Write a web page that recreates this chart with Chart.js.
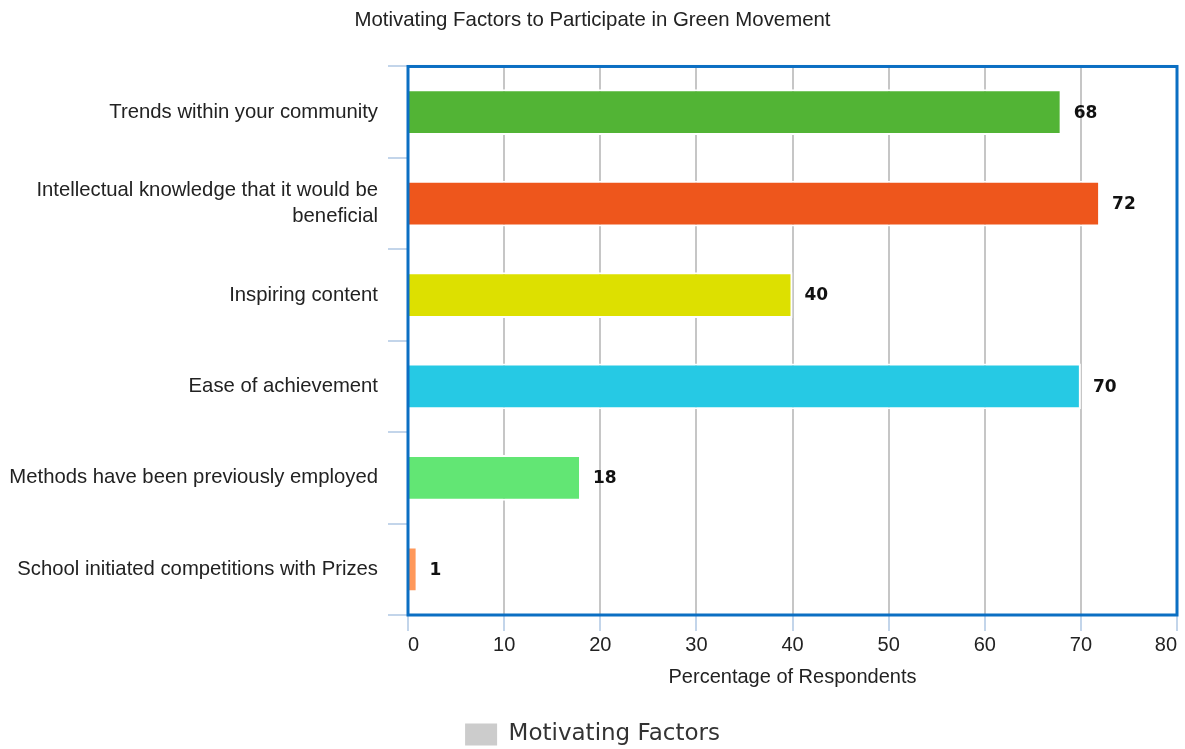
<!DOCTYPE html>
<html>
<head>
<meta charset="utf-8">
<script src="https://cdn.jsdelivr.net/npm/chart.js@4/dist/chart.umd.min.js"></script>
<style>
  body { margin: 0; background: #fff; }
  #wrap { width: 1185px; height: 749px; }
</style>
</head>
<body>
<div id="wrap"><canvas id="myChart"></canvas></div>
<script>
'use strict';

// chart data
let factors = [
  'Trends within your community',
  ['Intellectual knowledge that it would be', 'beneficial'],
  'Inspiring content',
  'Ease of achievement',
  'Methods have been previously employed',
  'School initiated competitions with Prizes'
];
let percentages = [68, 72, 40, 70, 18, 1];
let barColors = ['#52b435', '#ee561c', '#dde000', '#26c9e4', '#62e674', '#ff985a'];
let xTicks = [0, 10, 20, 30, 40, 50, 60, 70, 80];

let labelFont = '"Liberation Sans", Arial, sans-serif';

// draws the value next to each bar
let valueLabels = {
  id: 'valueLabels',
  afterDatasetsDraw(chart) {
    let ctx = chart.ctx;
    let meta = chart.getDatasetMeta(0);
    ctx.save();
    ctx.font = 'bold 17px "DejaVu Sans", sans-serif';
    ctx.fillStyle = '#111';
    ctx.textAlign = 'left';
    ctx.textBaseline = 'middle';
    meta.data.forEach(function (bar, i) {
      ctx.fillText(String(percentages[i]), bar.x + 12, bar.y + 1);
    });
    ctx.restore();
  }
};

// blue frame round the plot area
let plotFrame = {
  id: 'plotFrame',
  afterDraw(chart) {
    let a = chart.chartArea;
    let ctx = chart.ctx;
    ctx.save();
    ctx.strokeStyle = '#0b6fc3';
    ctx.lineWidth = 3;
    ctx.strokeRect(a.left, a.top, a.right - a.left, a.bottom - a.top);
    ctx.restore();
  }
};

const ctx = document.getElementById('myChart').getContext('2d');

const myChart = new Chart(ctx, {
  type: 'bar',
  data: {
    labels: factors,
    datasets: [{
      label: 'Motivating Factors',
      data: percentages,
      backgroundColor: barColors,
      borderColor: '#ffffff',
      borderWidth: 2,
      borderSkipped: 'start',
      barPercentage: 0.5,
      categoryPercentage: 1
    }]
  },
  options: {
    indexAxis: 'y',
    responsive: true,
    maintainAspectRatio: false,
    animation: false,
    layout: { padding: { left: 0, right: 0, top: 0, bottom: -7 } },
    plugins: {
      title: {
        display: true,
        text: 'Motivating Factors to Participate in Green Movement',
        color: '#222',
        font: { family: labelFont, size: 20.4, weight: 'normal' },
        padding: { top: 8, bottom: 34 }
      },
      legend: {
        display: true,
        position: 'bottom',
        labels: {
          boxWidth: 32,
          boxHeight: 22,
          padding: 4,
          color: '#333',
          font: { family: '"DejaVu Sans", sans-serif', size: 23 },
          generateLabels: function () {
            return [{
              text: 'Motivating Factors',
              fillStyle: '#cccccc',
              strokeStyle: '#cccccc',
              lineWidth: 0,
              fontColor: '#333',
              datasetIndex: 0
            }];
          }
        }
      },
      tooltip: { enabled: false }
    },
    scales: {
      x: {
        min: 0,
        max: 80,
        afterBuildTicks: function (scale) {
          scale.ticks = xTicks.map(function (v) { return { value: v }; });
        },
        afterFit: function (scale) {
          scale.height = 104;
          scale.paddingLeft = 0;
          scale.paddingRight = 8;
        },
        border: { display: false },
        grid: {
          color: '#c6c6c6',
          lineWidth: 2,
          tickColor: '#c3d5ea',
          tickLength: 16
        },
        ticks: {
          color: '#222',
          padding: 2,
          align: 'inner',
          font: { family: labelFont, size: 20 }
        },
        title: {
          display: true,
          text: 'Percentage of Respondents',
          color: '#222',
          font: { family: labelFont, size: 20 },
          padding: { top: 4, bottom: 30 }
        }
      },
      y: {
        offset: true,
        afterFit: function (scale) {
          scale.width = 408;
        },
        border: { display: true, color: '#c3d5ea', width: 2 },
        grid: {
          offset: true,
          drawOnChartArea: false,
          tickColor: '#c3d5ea',
          lineWidth: 2,
          tickLength: 20
        },
        ticks: {
          color: '#222',
          padding: 10,
          font: { family: labelFont, size: 20.3, lineHeight: 1.3 }
        }
      }
    }
  },
  plugins: [valueLabels, plotFrame]
});

console.log(myChart.chartArea, myChart.legend.top, myChart.legend.height);
</script>
</body>
</html>
